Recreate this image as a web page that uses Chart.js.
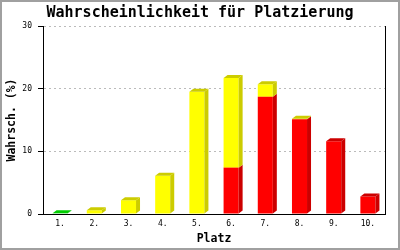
<!DOCTYPE html>
<html>
<head>
<meta charset="utf-8">
<script src="https://cdn.jsdelivr.net/npm/chart.js@4"></script>
<style>
html,body{margin:0;padding:0;background:#fff;}
canvas{display:block;}
</style>
</head>
<body>
<canvas id="c" width="400" height="250"></canvas>
<script>
const places = ['1.', '2.', '3.', '4.', '5.', '6.', '7.', '8.', '9.', '10.'];
const greenValues  = [0.1, 0, 0, 0, 0, 0, 0, 0, 0, 0];
const redValues    = [0, 0, 0, 0, 0, 7.4, 18.7, 15.1, 11.6, 2.8];
const yellowValues = [0, 0.6, 2.2, 6.1, 19.5, 14.3, 2.0, 0.1, 0, 0];
const yTicks = [0, 10, 20, 30];

const mono = "'DejaVu Sans Mono', 'Liberation Mono', monospace";

const depthPlugin = {
  id: 'depth3d',
  afterDatasetsDraw(chart) {
    const ctx = chart.ctx;
    const dx = 4, dy = 3;
    for (let i = 0; i < places.length; i++) {
      let top = null;
      chart.data.datasets.forEach((ds, d) => {
        const v = ds.data[i];
        if (!v) return;
        const el = chart.getDatasetMeta(d).data[i];
        const p = el.getProps(['x', 'y', 'base', 'width'], true);
        const l = p.x - p.width / 2, r = p.x + p.width / 2;
        ctx.save();
        ctx.fillStyle = ds.sideColor;
        ctx.beginPath();
        ctx.moveTo(r, p.y);
        ctx.lineTo(r + dx, p.y - dy);
        ctx.lineTo(r + dx, p.base - dy);
        ctx.lineTo(r, p.base);
        ctx.closePath();
        ctx.fill();
        ctx.restore();
        if (!top || p.y < top.y) top = {y: p.y, l, r, color: ds.sideColor};
      });
      if (top) {
        ctx.save();
        ctx.fillStyle = top.color;
        ctx.beginPath();
        ctx.moveTo(top.l, top.y);
        ctx.lineTo(top.l + dx, top.y - dy);
        ctx.lineTo(top.r + dx, top.y - dy);
        ctx.lineTo(top.r, top.y);
        ctx.closePath();
        ctx.fill();
        ctx.restore();
      }
    }
  },
  afterDraw(chart) {
    const ctx = chart.ctx;
    ctx.save();
    ctx.strokeStyle = '#a0a0a0';
    ctx.lineWidth = 2;
    ctx.strokeRect(1, 1, 398, 248);
    ctx.restore();
  }
};

new Chart(document.getElementById('c'), {
  type: 'bar',
  data: {
    labels: places,
    datasets: [
      {label: 'Platz 1', data: greenValues, backgroundColor: '#00dd00', sideColor: '#00cc00', stack: 's'},
      {label: 'rot', data: redValues, backgroundColor: '#ff0000', sideColor: '#cc0000', stack: 's'},
      {label: 'gelb', data: yellowValues, backgroundColor: '#ffff00', sideColor: '#cccc00', stack: 's'}
    ]
  },
  options: {
    responsive: false,
    devicePixelRatio: 1,
    animation: false,
    events: [],
    layout: {padding: 0},
    datasets: {bar: {categoryPercentage: 1.0, barPercentage: 0.44, borderWidth: 0}},
    plugins: {
      legend: {display: false},
      tooltip: {enabled: false},
      title: {
        display: true,
        text: 'Wahrscheinlichkeit für Platzierung',
        color: '#000',
        font: {family: mono, size: 15, weight: 'bold'},
        padding: {top: 4, bottom: 4}
      }
    },
    scales: {
      x: {
        stacked: true,
        grid: {display: false, drawTicks: false},
        border: {display: true, color: '#000', width: 1},
        ticks: {color: '#000', font: {family: mono, size: 8}, padding: 5, maxRotation: 0},
        title: {display: true, text: 'Platz', color: '#000', font: {family: mono, size: 11.5, weight: 'bold'}, padding: {top: 0, bottom: 4}},
        afterFit(scale) { scale.height = 36; }
      },
      y: {
        stacked: true,
        min: 0,
        max: 30,
        afterBuildTicks(scale) { scale.ticks = yTicks.map(v => ({value: v})); },
        grid: {color: '#bbbbbb', lineWidth: 1, tickColor: '#000', tickLength: 5, tickBorderDash: []},
        border: {display: true, color: '#000', width: 1, dash: [2, 3]},
        ticks: {color: '#000', font: {family: mono, size: 8}, padding: 6},
        title: {display: true, text: 'Wahrsch. (%)', color: '#000', font: {family: mono, size: 11.5, weight: 'bold'}, padding: {top: 5, bottom: 0}},
        afterFit(scale) { scale.width = 43; }
      },
      yRight: {
        position: 'right',
        min: 0,
        max: 30,
        grid: {display: false, drawTicks: false},
        ticks: {display: false},
        border: {display: true, color: '#000', width: 1},
        afterFit(scale) { scale.width = 15; }
      }
    }
  },
  plugins: [depthPlugin]
});
</script>
</body>
</html>
